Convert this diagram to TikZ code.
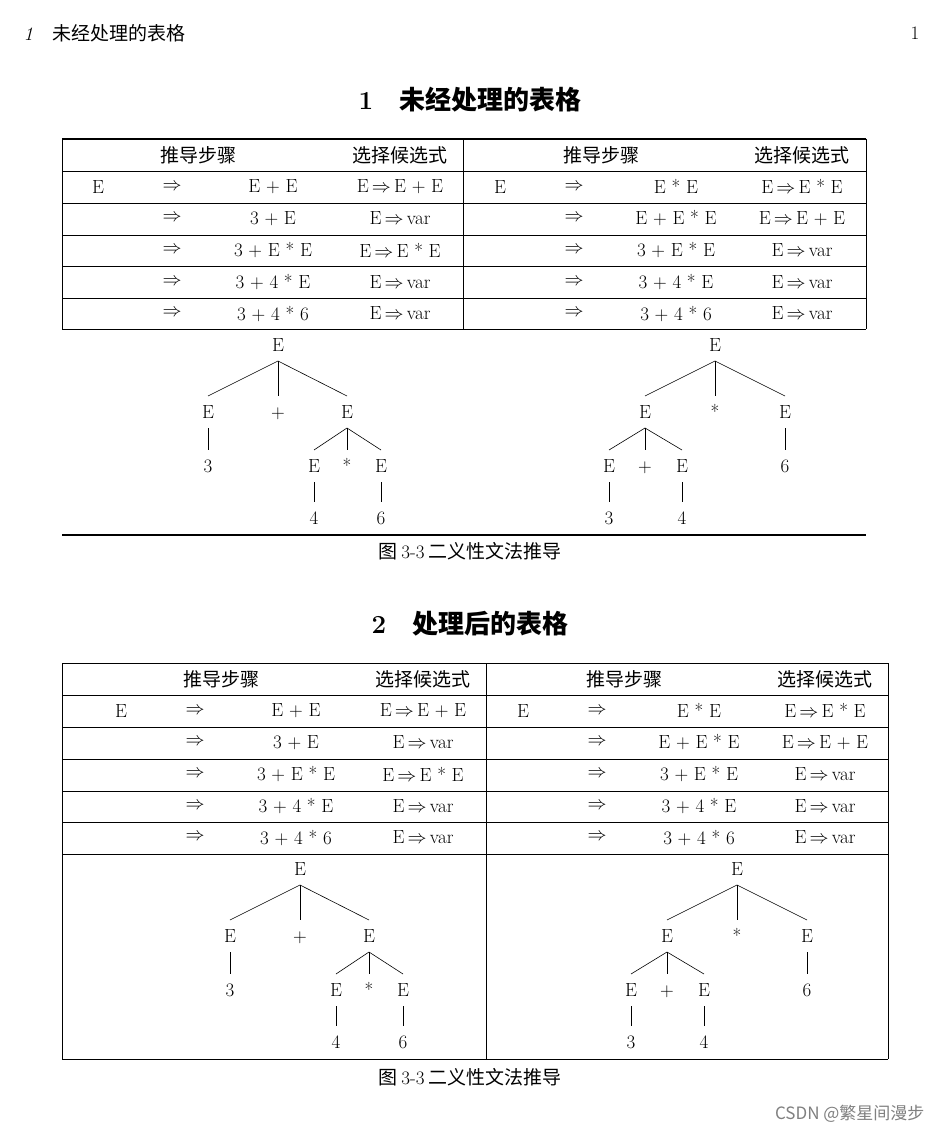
\RequirePackage{fix-cm}
\documentclass[tikz,border=0pt]{standalone}
\usepackage{fontspec}
\newfontfamily\cjk{Noto Sans CJK SC}
\usetikzlibrary{positioning}
\DeclareMathSizes{19}{19}{14}{10}

\newcommand\ra{\,$\Rightarrow$\,}

\tikzset{
  body/.style={font=\fontsize{19}{22}\selectfont},
  cjktext/.style={font=\fontsize{19}{22}\selectfont\cjk},
  tnode/.style={body, inner sep=0pt, outer xsep=0pt, outer ysep=10pt, text height=12pt, text depth=0pt},
  edge/.style={line width=0.6pt},
  rulethin/.style={line width=0.6pt},
  rulethick/.style={line width=1.2pt}
}

\newcommand\tablerows[3]{
  \node[cjktext] (#1hl) at (#2-265,#3+16) {推导步骤};
  \node[cjktext] (#1hlc) at (#2-63,#3+16) {选择候选式};
  \node[cjktext] (#1hr) at (#2+138,#3+16) {推导步骤};
  \node[cjktext] (#1hrc) at (#2+339,#3+16) {选择候选式};
  \foreach \s/\ex/\ch [count=\i] in {
      E/E + E/E\ra E + E,
      {}/3 + E/E\ra var,
      {}/3 + E * E/E\ra E * E,
      {}/3 + 4 * E/E\ra var,
      {}/3 + 4 * 6/E\ra var} {
    \node[body] (#1l\i s) at (#2-365,#3+16+31.7*\i) {\s};
    \node[body] (#1l\i a) at (#2-291,#3+16+31.7*\i) {$\Rightarrow$};
    \node[body] (#1l\i e) at (#2-190,#3+16+31.7*\i) {\ex};
    \node[body] (#1l\i c) at (#2-63,#3+16+31.7*\i) {\ch};
  }
  \foreach \s/\ex/\ch [count=\i] in {
      E/E * E/E\ra E * E,
      {}/E + E * E/E\ra E + E,
      {}/3 + E * E/E\ra var,
      {}/3 + 4 * E/E\ra var,
      {}/3 + 4 * 6/E\ra var} {
    \node[body] (#1r\i s) at (#2+37,#3+16+31.7*\i) {\s};
    \node[body] (#1r\i a) at (#2+111,#3+16+31.7*\i) {$\Rightarrow$};
    \node[body] (#1r\i e) at (#2+213,#3+16+31.7*\i) {\ex};
    \node[body] (#1r\i c) at (#2+339,#3+16+31.7*\i) {\ch};
  }
}

\newcommand\lefttree[3]{
  \begin{scope}[shift={(#2,#3)}]
    \node[tnode] (#1r) at (0,0) {E};
    \node[tnode] (#1a) at (-70,67) {E};
    \node[tnode] (#1b) at (0,67) {+};
    \node[tnode] (#1c) at (69,67) {E};
    \node[tnode] (#1a3) at (-70,121) {3};
    \node[tnode] (#1d) at (36,121) {E};
    \node[tnode] (#1e) at (69,121) {*};
    \node[tnode] (#1f) at (103,121) {E};
    \node[tnode] (#1g) at (36,173) {4};
    \node[tnode] (#1h) at (103,173) {6};
    \draw[edge] (#1r.south) -- (#1a.north);
    \draw[edge] (#1r.south) -- (#1b.north);
    \draw[edge] (#1r.south) -- (#1c.north);
    \draw[edge] (#1a.south) -- (#1a3.north);
    \draw[edge] (#1c.south) -- (#1d.north);
    \draw[edge] (#1c.south) -- (#1e.north);
    \draw[edge] (#1c.south) -- (#1f.north);
    \draw[edge] (#1d.south) -- (#1g.north);
    \draw[edge] (#1f.south) -- (#1h.north);
  \end{scope}
}

\newcommand\righttree[3]{
  \begin{scope}[shift={(#2,#3)}]
    \node[tnode] (#1r) at (0,0) {E};
    \node[tnode] (#1a) at (-70,67) {E};
    \node[tnode] (#1b) at (0,67) {*};
    \node[tnode] (#1c) at (70,67) {E};
    \node[tnode] (#1d) at (-106,121) {E};
    \node[tnode] (#1e) at (-70,121) {+};
    \node[tnode] (#1f) at (-33,121) {E};
    \node[tnode] (#1c6) at (70,121) {6};
    \node[tnode] (#1g) at (-106,173) {3};
    \node[tnode] (#1h) at (-33,173) {4};
    \draw[edge] (#1r.south) -- (#1a.north);
    \draw[edge] (#1r.south) -- (#1b.north);
    \draw[edge] (#1r.south) -- (#1c.north);
    \draw[edge] (#1a.south) -- (#1d.north);
    \draw[edge] (#1a.south) -- (#1e.north);
    \draw[edge] (#1a.south) -- (#1f.north);
    \draw[edge] (#1c.south) -- (#1c6.north);
    \draw[edge] (#1d.south) -- (#1g.north);
    \draw[edge] (#1f.south) -- (#1h.north);
  \end{scope}
}

\begin{document}
\begin{tikzpicture}[x=1pt, y=-1pt]
\useasboundingbox[fill=white] (0,0) rectangle (942,1134);

\node[font=\fontsize{19}{22}\selectfont\cjk, anchor=west] (head) at (20,33) {{\rmfamily\itshape 1}\quad 未经处理的表格};
\node[body] (pageno) at (915,33) {1};

\node[font=\fontsize{26}{30}\selectfont\bfseries\cjk] (title1) at (470,100) {{\rmfamily 1}\quad 未经处理的表格};

\tablerows{a}{463}{139}
\draw[rulethick] (62,139) -- (866,139);
\foreach \y in {171,203,235,266,298,329}
  \draw[rulethin] (62,\y) -- (866,\y);
\foreach \x in {62,463,866}
  \draw[rulethin] (\x,139) -- (\x,329);
\lefttree{at}{278}{345}
\righttree{bt}{715}{345}
\draw[rulethick] (62,535) -- (866,535);
\node[cjktext] (cap1) at (470,551) {图~{\rmfamily 3-3}~二义性文法推导};

\node[font=\fontsize{26}{30}\selectfont\bfseries\cjk] (title2) at (470,624) {{\rmfamily 2}\quad 处理后的表格};

\tablerows{b}{486}{663}
\foreach \y in {663,695,727,759,791,822,854,1059}
  \draw[rulethin] (62,\y) -- (888,\y);
\foreach \x in {62,486,888}
  \draw[rulethin] (\x,663) -- (\x,1059);
\lefttree{ct}{300}{869}
\righttree{dt}{737}{869}
\node[cjktext] (cap2) at (470,1077) {图~{\rmfamily 3-3}~二义性文法推导};

\node[font=\fontsize{17}{20}\selectfont\cjk, text=gray, anchor=east] (mark) at (928,1114) {CSDN @繁星间漫步};
\end{tikzpicture}
\end{document}
